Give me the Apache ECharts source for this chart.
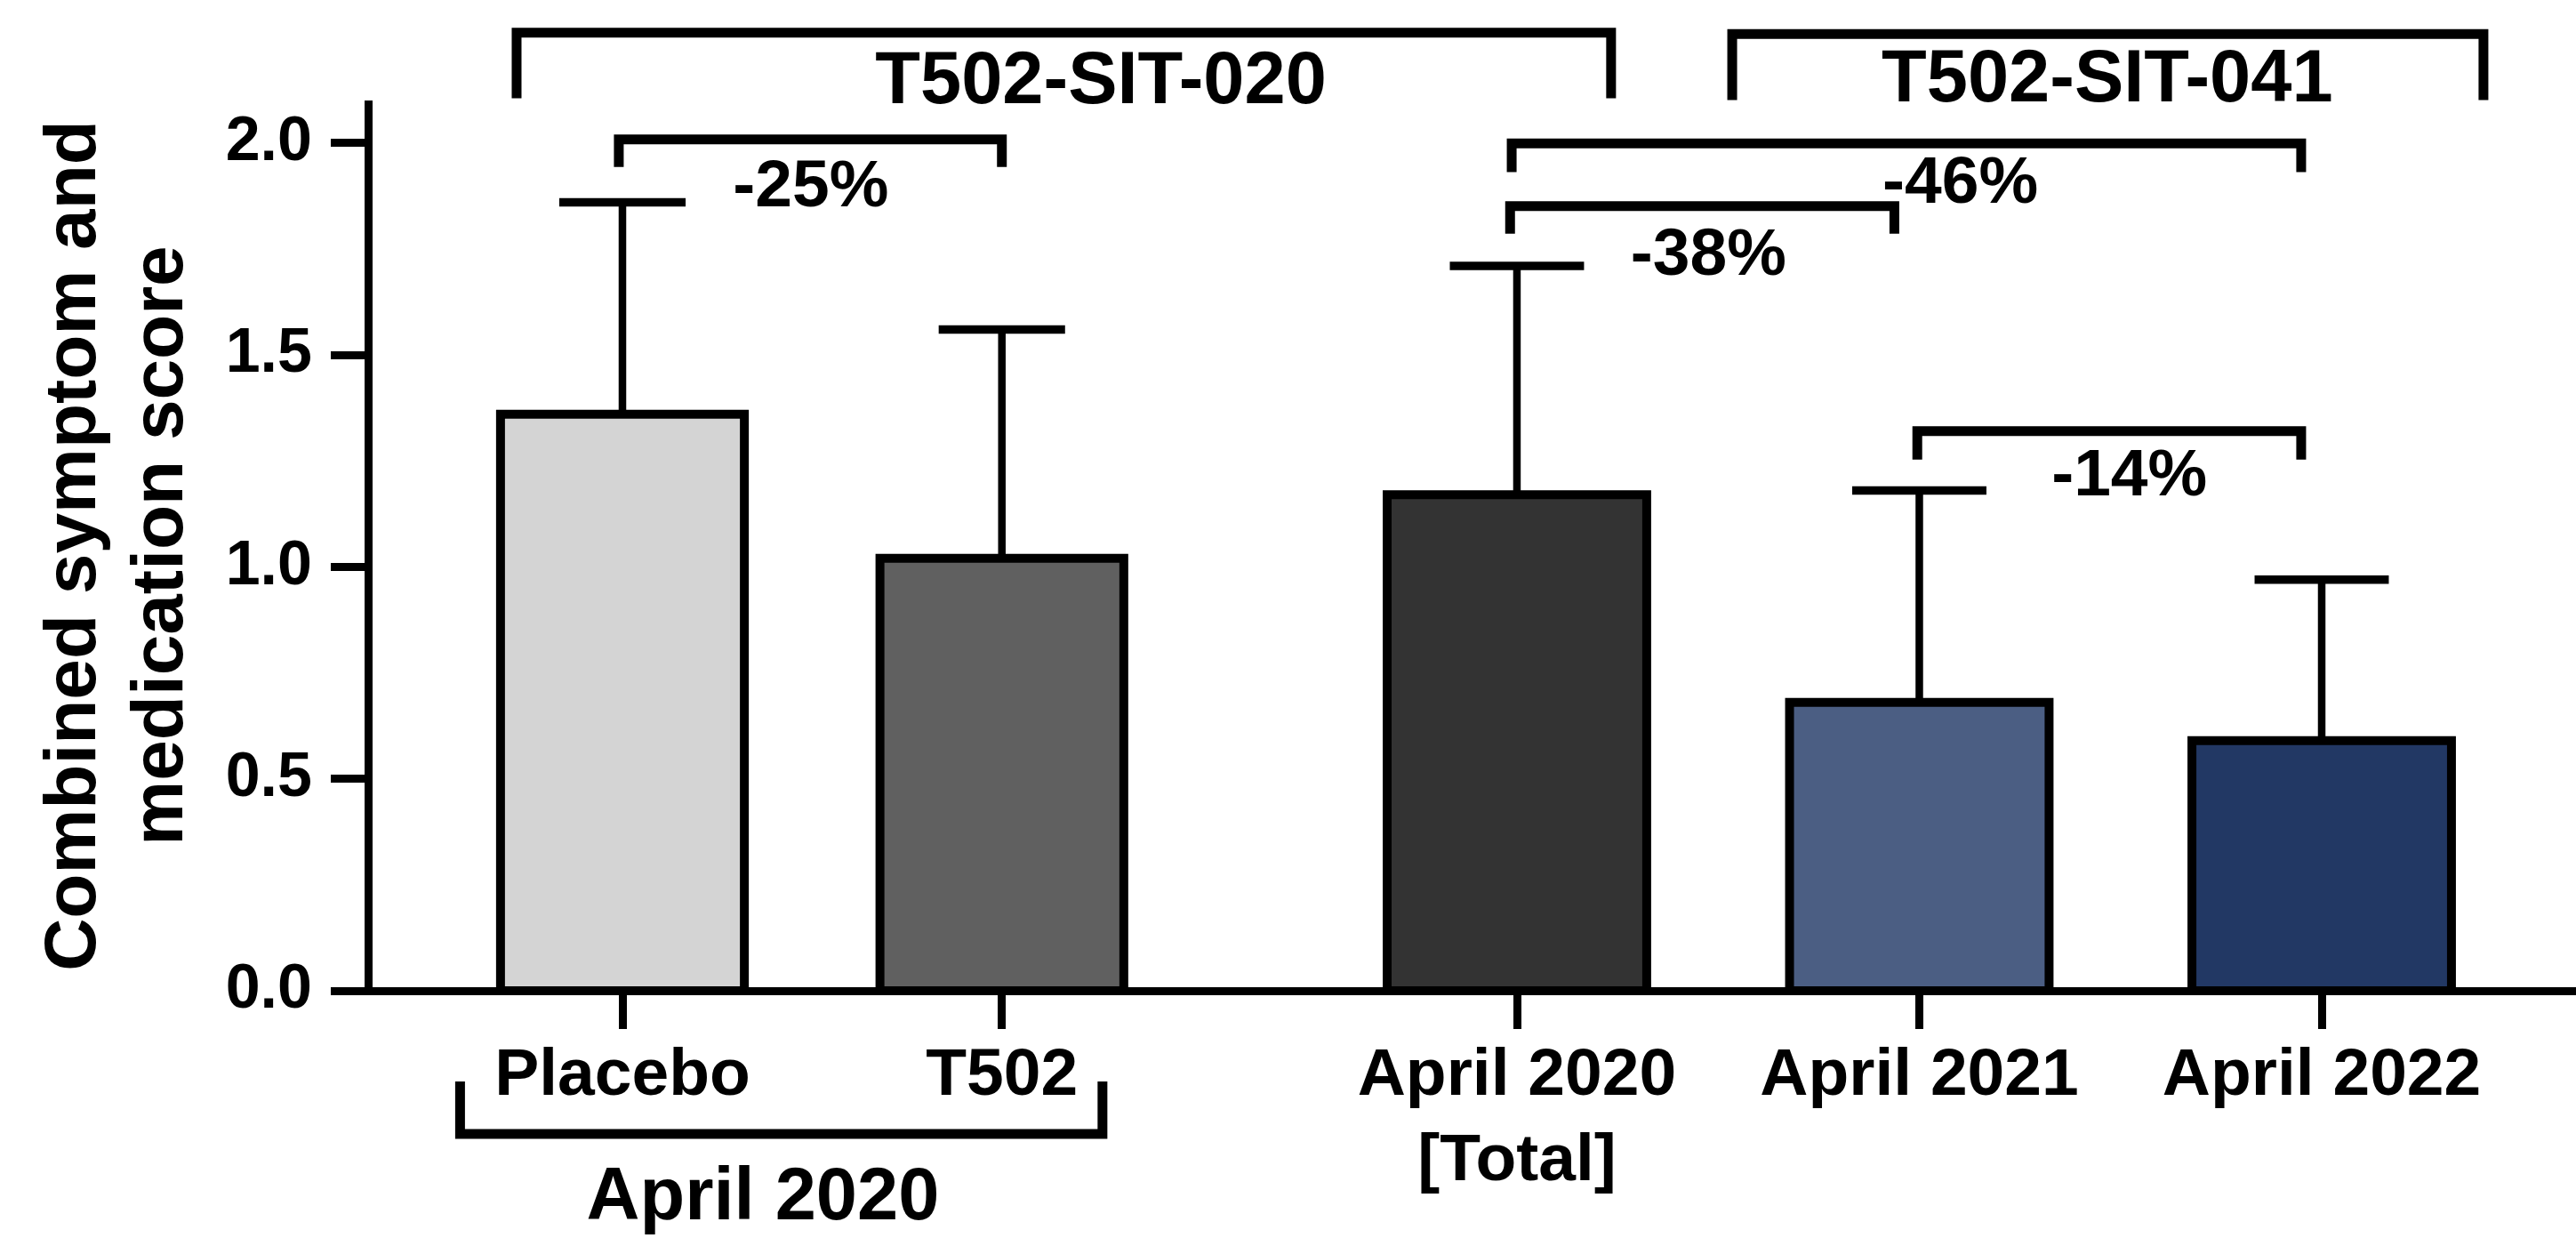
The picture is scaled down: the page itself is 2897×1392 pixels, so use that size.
<!DOCTYPE html>
<html>
<head>
<meta charset="utf-8">
<title>Combined symptom and medication score</title>
<script src="https://cdn.jsdelivr.net/npm/echarts@6/dist/echarts.min.js"></script>
<style>
  html, body { margin: 0; padding: 0; background: #ffffff; }
  #chart { width: 2897px; height: 1392px; }
</style>
</head>
<body>
<div id="chart"></div>
<script>
// ---- data ----
const categories = ['Placebo', 'T502', 'April 2020\n[Total]', 'April 2021', 'April 2022'];
const means = [1.36, 1.02, 1.17, 0.68, 0.59];
const sds = [0.50, 0.54, 0.54, 0.50, 0.38];
const yTicks = [0, 0.5, 1.0, 1.5, 2.0];
const changeLabels = ['-25%', '-38%', '-46%', '-14%'];
const studies = ['T502-SIT-020', 'T502-SIT-041'];
const groupLabel = 'April 2020';
const yTitle = 'Combined symptom and\nmedication score';

// ---- layout (x in axis slot units, y in score units) ----
const slotPos = [0.777, 1.72, 3, 4, 5];
const barSpan = [0.606, 0.606, 0.645, 0.645, 0.645];
const barColors = ['#d4d4d4', '#606060', '#333333', '#4b5e83', '#223864'];
// [x from, x to, bar y, leg end y, label x, label y]
const compLayout = [
  [0.768, 1.720, 2.008, 1.943, 1.245, 1.893],
  [2.983, 3.938, 1.851, 1.786, 3.476, 1.733],
  [2.987, 4.949, 1.999, 1.931, 4.102, 1.902],
  [3.995, 4.949, 1.320, 1.253, 4.522, 1.211]
];
const studyLayout = [
  [0.514, 3.234, 2.260, 2.105, 1.966, 2.142],
  [3.535, 5.402, 2.257, 2.101, 4.467, 2.146]
];
const groupLayout = [0.3735, 1.970, -0.338, -0.214, 1.126, -0.491];

const FONT = '"Liberation Sans", Arial, Helvetica, sans-serif';
const INK = '#000000';

function bracketShape(api, L) {
  const a = api.coord([L[0], L[3]]);
  const b = api.coord([L[0], L[2]]);
  const c = api.coord([L[1], L[2]]);
  const d = api.coord([L[1], L[3]]);
  return {
    type: 'polyline',
    shape: { points: [a, b, c, d] },
    style: { stroke: INK, lineWidth: 11, fill: null, lineJoin: 'miter', lineCap: 'butt' }
  };
}
function labelShape(api, L, text, size) {
  const p = api.coord([L[4], L[5]]);
  return {
    type: 'text',
    style: {
      text: text, x: p[0], y: p[1], fill: INK,
      align: 'center', verticalAlign: 'middle',
      font: 'bold ' + size + 'px ' + FONT
    }
  };
}

const chart = echarts.init(document.getElementById('chart'), null, { renderer: 'canvas' });

chart.setOption({
  animation: false,
  backgroundColor: '#ffffff',
  grid: { left: 414, right: 0, top: 113, bottom: 278, containLabel: false, outerBoundsMode: 'none' },
  xAxis: {
    type: 'value',
    min: 0.145,
    max: 5.632,
    splitLine: { show: false },
    axisLine: { show: true, lineStyle: { color: INK, width: 9, cap: 'butt' } },
    axisTick: { show: true, length: 43, customValues: slotPos, lineStyle: { color: INK, width: 9 } },
    axisLabel: {
      show: true,
      customValues: slotPos,
      margin: 48,
      color: INK,
      fontFamily: FONT,
      fontWeight: 'bold',
      fontSize: 75,
      lineHeight: 96,
      formatter: function (v) {
        const i = slotPos.findIndex(function (p) { return Math.abs(p - v) < 1e-3; });
        return i >= 0 ? categories[i] : '';
      }
    }
  },
  yAxis: {
    type: 'value',
    min: 0,
    max: 2.1,
    splitLine: { show: false },
    axisLine: { show: true, lineStyle: { color: INK, width: 9, cap: 'butt' } },
    axisTick: { show: true, length: 42, customValues: yTicks, lineStyle: { color: INK, width: 9 } },
    axisLabel: {
      customValues: yTicks,
      margin: 63,
      color: INK,
      fontFamily: FONT,
      fontWeight: 'bold',
      fontSize: 70,
      formatter: function (v) { return v.toFixed(1); }
    },
    name: yTitle,
    nameLocation: 'middle',
    nameRotate: 90,
    nameGap: 182,
    nameTextStyle: { color: INK, fontFamily: FONT, fontWeight: 'bold', fontSize: 82, lineHeight: 98.5 }
  },
  series: [
    {
      // bars with upper SD whiskers
      type: 'custom',
      clip: false,
      data: means.map(function (m, i) { return [slotPos[i], m, sds[i]]; }),
      encode: { x: 0, y: 1 },
      renderItem: function (params, api) {
        const i = params.dataIndex;
        const x = api.value(0), m = api.value(1), sd = api.value(2);
        const half = barSpan[i] / 2;
        const tl = api.coord([x - half, m]);
        const br = api.coord([x + half, 0]);
        const top = api.coord([x, m + sd]);
        const stroke = 10;
        const capHalf = (br[0] - tl[0] + stroke) / 4;
        return {
          type: 'group',
          children: [
            { type: 'line', shape: { x1: top[0], y1: tl[1], x2: top[0], y2: top[1] },
              style: { stroke: INK, lineWidth: 8.5, lineCap: 'butt' } },
            { type: 'line', shape: { x1: top[0] - capHalf, y1: top[1], x2: top[0] + capHalf, y2: top[1] },
              style: { stroke: INK, lineWidth: 9.5, lineCap: 'butt' } },
            { type: 'rect', shape: { x: tl[0], y: tl[1], width: br[0] - tl[0], height: br[1] - tl[1] },
              style: { fill: barColors[i], stroke: INK, lineWidth: stroke, lineJoin: 'miter' } }
          ]
        };
      },
      z: 3
    },
    {
      // pairwise comparison brackets with percent change
      type: 'custom',
      clip: false,
      silent: true,
      data: changeLabels.map(function (t, i) { return [compLayout[i][4], compLayout[i][5]]; }),
      encode: { x: 0, y: 1 },
      renderItem: function (params, api) {
        const i = params.dataIndex;
        const L = compLayout[i];
        return { type: 'group', children: [bracketShape(api, L), labelShape(api, L, changeLabels[i], 75)] };
      },
      z: 4
    },
    {
      // study brackets across the top
      type: 'custom',
      clip: false,
      silent: true,
      data: studies.map(function (t, i) { return [studyLayout[i][4], studyLayout[i][5]]; }),
      encode: { x: 0, y: 1 },
      renderItem: function (params, api) {
        const i = params.dataIndex;
        const L = studyLayout[i];
        return { type: 'group', children: [bracketShape(api, L), labelShape(api, L, studies[i], 83)] };
      },
      z: 4
    },
    {
      // grouping bracket under the first two bars
      type: 'custom',
      clip: false,
      silent: true,
      data: [[groupLayout[4], groupLayout[5]]],
      encode: { x: 0, y: 1 },
      renderItem: function (params, api) {
        const L = groupLayout;
        return { type: 'group', children: [bracketShape(api, L), labelShape(api, L, groupLabel, 83)] };
      },
      z: 4
    }
  ]
});
</script>
</body>
</html>
